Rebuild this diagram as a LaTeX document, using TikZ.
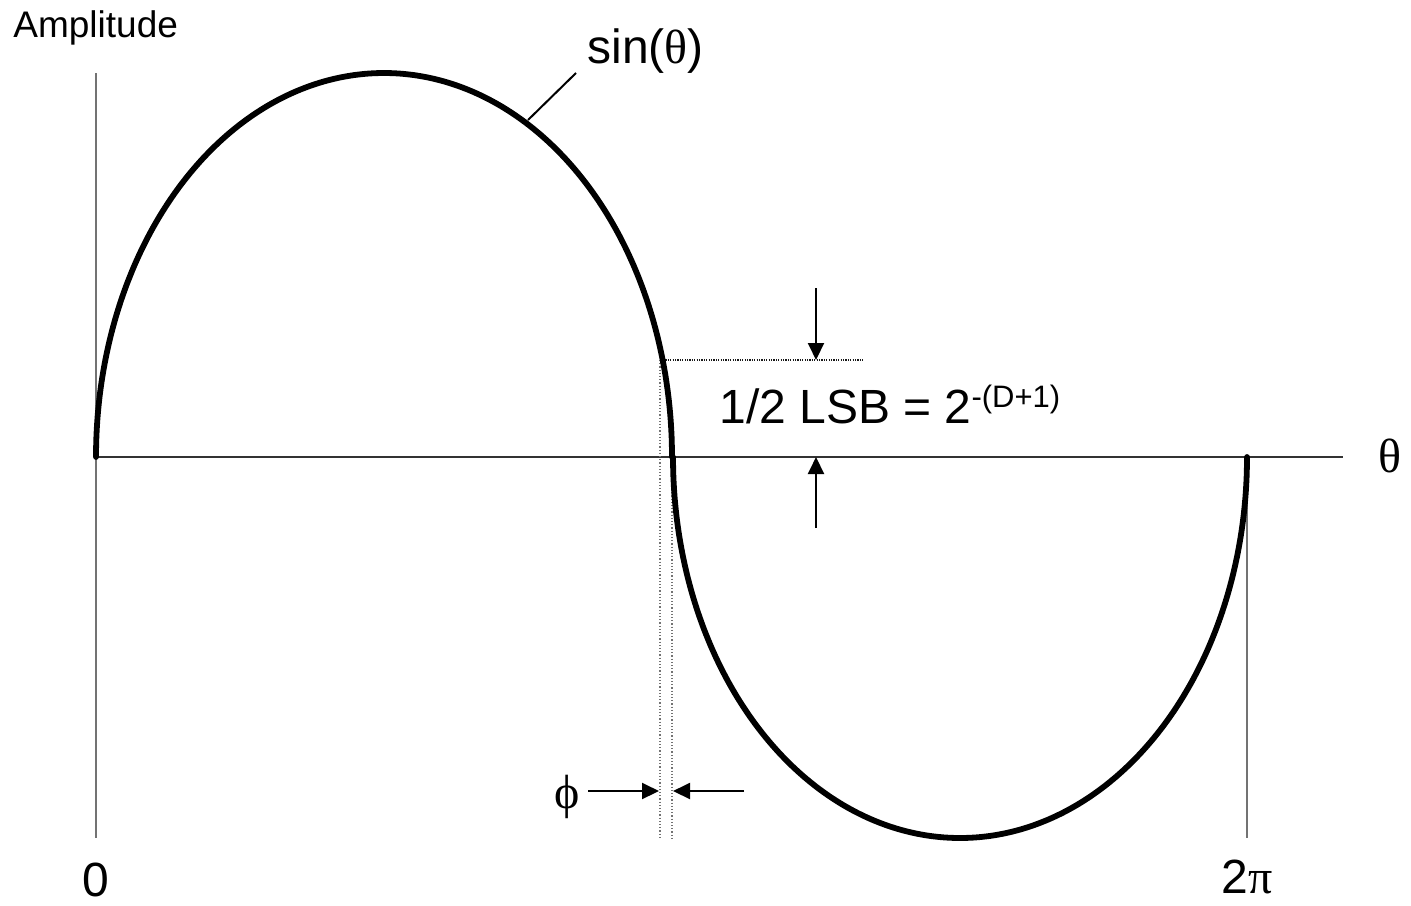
\documentclass[tikz,border=0pt]{standalone}
\usepackage{fontspec}
\setmainfont{Liberation Sans}
\newfontfamily\greekfont{Liberation Serif}
\usetikzlibrary{arrows.meta}
\begin{document}
\begin{tikzpicture}[x=0.5pt,y=-0.5pt,
  vaxis/.style={line width=0.7pt, black!55},
  haxis/.style={line width=0.6pt, black!80},
  guide/.style={line width=0.6pt, black!55, densely dotted},
  hguide/.style={line width=0.6pt, black!90, dash pattern=on 0.6pt off 0.6pt},
  dimarrow/.style={line width=1pt, -{Triangle[length=8.5pt,width=8pt]}},
  leader/.style={line width=1pt},
  wave/.style={line width=2.9pt, line join=round, line cap=round},
  lbl/.style={font=\fontsize{24}{28}\selectfont, inner sep=0pt}]
\useasboundingbox (0,0) rectangle (1411,905);
% coordinates
\coordinate (ytop) at (96,73);
\coordinate (O) at (96,457);
\coordinate (ybot) at (96,838);
\coordinate (xend) at (1343,457);
\coordinate (tp) at (1247,457);
\coordinate (tpb) at (1247,838);
\coordinate (q) at (663,360);
\coordinate (qend) at (863,360);
\coordinate (g1t) at (660,360);
\coordinate (g1b) at (660,838);
\coordinate (g2t) at (672,457);
\coordinate (g2b) at (672,838);
\coordinate (da0) at (816,288);
\coordinate (da1) at (816,360);
\coordinate (ua0) at (816,528);
\coordinate (ua1) at (816,457);
\coordinate (pa0) at (588,791);
\coordinate (pa1) at (659,791);
\coordinate (pb0) at (744,791);
\coordinate (pb1) at (673,791);
\coordinate (ld0) at (576,73);
\coordinate (ld1) at (528,120);
% labels
\node[lbl, anchor=base west, font=\fontsize{18.5}{22}\selectfont] (amp) at (13,37) {Amplitude};
\node[lbl, anchor=base west] (sinlbl) at (587,63) {sin({\greekfont θ})};
\node[lbl, anchor=base west] (lsb) at (719,423) {1/2 LSB = 2\raisebox{8pt}{\fontsize{15.5}{18}\selectfont -(D+1)}};
\node[lbl, anchor=base west] (theta) at (1378,472) {\greekfont θ};
\node[lbl, anchor=base] (zero) at (96,896) {0};
\node[lbl, anchor=base] (twopi) at (1247,893) {2{\greekfont π}};
\node[lbl, anchor=base west] (phi) at (554,808) {\greekfont ϕ};
% axes
\draw[vaxis] (ytop) -- (ybot);
\draw[vaxis] (tp) -- (tpb);
\draw[haxis] (O) -- (xend);
% guides
\draw[hguide] (q) -- (qend);
\draw[guide] (g1t) -- (g1b);
\draw[guide] (g2t) -- (g2b);
% dimension arrows
\draw[dimarrow] (da0) -- (da1);
\draw[dimarrow] (ua0) -- (ua1);
\draw[dimarrow] (pa0) -- (pa1);
\draw[dimarrow] (pb0) -- (pb1);
% leader
\draw[leader] (ld0) -- (ld1);
% wave
\draw[wave] plot[domain=180:360, samples=241] ({384+288*cos(\x)}, {457+384*sin(\x)})
  -- plot[domain=180:0, samples=241] ({960+287*cos(\x)}, {457+381*sin(\x)});
\end{tikzpicture}
\end{document}
